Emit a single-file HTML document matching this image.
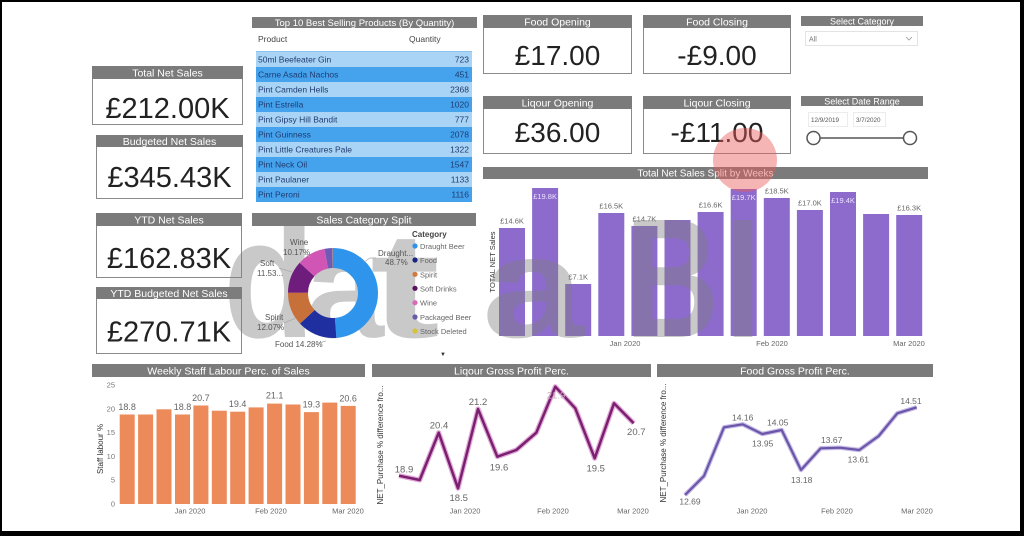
<!DOCTYPE html>
<html><head><meta charset="utf-8"><style>
html,body{margin:0;padding:0;background:#000;}
svg{display:block;font-family:"Liberation Sans",sans-serif;}
</style></head><body>
<svg width="1024" height="536" viewBox="0 0 1024 536" xmlns="http://www.w3.org/2000/svg">
<rect width="1024" height="536" fill="#000"/>
<rect x="2" y="2" width="1018" height="529" fill="#fff"/>

<!-- Left KPI cards -->
<g>
<rect x="92.5" y="66.5" width="150" height="58" fill="#fff" stroke="#8a8a8a"/>
<rect x="92" y="66" width="151" height="13" fill="#7b7b7b"/>
<text x="167.5" y="76.5" font-size="10.5" fill="#fff" text-anchor="middle">Total Net Sales</text>
<text x="167.5" y="118" font-size="29" fill="#222" text-anchor="middle">£212.00K</text>

<rect x="96.5" y="135.5" width="146" height="63" fill="#fff" stroke="#8a8a8a"/>
<rect x="96" y="135" width="147" height="12" fill="#7b7b7b"/>
<text x="169.5" y="144.8" font-size="10.5" fill="#fff" text-anchor="middle">Budgeted Net Sales</text>
<text x="169.5" y="187" font-size="29" fill="#222" text-anchor="middle">£345.43K</text>

<rect x="96.5" y="213.5" width="145" height="64" fill="#fff" stroke="#8a8a8a"/>
<rect x="96" y="213" width="146" height="13" fill="#7b7b7b"/>
<text x="169" y="223.5" font-size="10.5" fill="#fff" text-anchor="middle">YTD Net Sales</text>
<text x="169" y="268" font-size="29" fill="#222" text-anchor="middle">£162.83K</text>

<rect x="96.5" y="287.5" width="145" height="66" fill="#fff" stroke="#8a8a8a"/>
<rect x="96" y="287" width="146" height="12" fill="#7b7b7b"/>
<text x="169" y="297" font-size="10.5" fill="#fff" text-anchor="middle">YTD Budgeted Net Sales</text>
<text x="169" y="341.5" font-size="29" fill="#222" text-anchor="middle">£270.71K</text>
</g>

<!-- Table -->
<g font-size="8.5">
<rect x="252" y="17" width="225" height="11" fill="#7b7b7b"/>
<text x="364.5" y="26" font-size="9.5" fill="#fff" text-anchor="middle">Top 10 Best Selling Products (By Quantity)</text>
<text x="258" y="42" fill="#444">Product</text>
<text x="409" y="42" fill="#444">Quantity</text>
<rect x="256" y="52" width="216" height="15" fill="#a9d4f5"/>
<rect x="256" y="67" width="216" height="15" fill="#45a3ee"/>
<rect x="256" y="82" width="216" height="15" fill="#a9d4f5"/>
<rect x="256" y="97" width="216" height="15" fill="#45a3ee"/>
<rect x="256" y="112" width="216" height="15" fill="#a9d4f5"/>
<rect x="256" y="127" width="216" height="15" fill="#45a3ee"/>
<rect x="256" y="142" width="216" height="15" fill="#a9d4f5"/>
<rect x="256" y="157" width="216" height="15" fill="#45a3ee"/>
<rect x="256" y="172" width="216" height="15" fill="#a9d4f5"/>
<rect x="256" y="187" width="216" height="15" fill="#45a3ee"/>
<line x1="256" y1="51.5" x2="472" y2="51.5" stroke="#8cc3ef"/>
<g fill="#1f3b70">
<text x="258" y="62.5">50ml Beefeater Gin</text><text x="469" y="62.5" text-anchor="end">723</text>
<text x="258" y="77.5">Carne Asada Nachos</text><text x="469" y="77.5" text-anchor="end">451</text>
<text x="258" y="92.5">Pint Camden Hells</text><text x="469" y="92.5" text-anchor="end">2368</text>
<text x="258" y="107.5">Pint Estrella</text><text x="469" y="107.5" text-anchor="end">1020</text>
<text x="258" y="122.5">Pint Gipsy Hill Bandit</text><text x="469" y="122.5" text-anchor="end">777</text>
<text x="258" y="137.5">Pint Guinness</text><text x="469" y="137.5" text-anchor="end">2078</text>
<text x="258" y="152.5">Pint Little Creatures Pale</text><text x="469" y="152.5" text-anchor="end">1322</text>
<text x="258" y="167.5">Pint Neck Oil</text><text x="469" y="167.5" text-anchor="end">1547</text>
<text x="258" y="182.5">Pint Paulaner</text><text x="469" y="182.5" text-anchor="end">1133</text>
<text x="258" y="197.5">Pint Peroni</text><text x="469" y="197.5" text-anchor="end">1116</text>
</g>
</g>

<!-- Top right KPI cards -->
<g>
<rect x="483.5" y="15.5" width="148" height="58" fill="#fff" stroke="#8a8a8a"/>
<rect x="483" y="15" width="149" height="13" fill="#7b7b7b"/>
<text x="557.5" y="25.5" font-size="10.5" fill="#fff" text-anchor="middle">Food Opening</text>
<text x="557.5" y="65" font-size="28" fill="#222" text-anchor="middle">£17.00</text>

<rect x="643.5" y="15.5" width="147" height="58" fill="#fff" stroke="#8a8a8a"/>
<rect x="643" y="15" width="148" height="13" fill="#7b7b7b"/>
<text x="717" y="25.5" font-size="10.5" fill="#fff" text-anchor="middle">Food Closing</text>
<text x="717" y="65" font-size="28" fill="#222" text-anchor="middle">-£9.00</text>

<rect x="483.5" y="96.5" width="148" height="57" fill="#fff" stroke="#8a8a8a"/>
<rect x="483" y="96" width="149" height="13" fill="#7b7b7b"/>
<text x="557.5" y="106.5" font-size="10.5" fill="#fff" text-anchor="middle">Liqour Opening</text>
<text x="557.5" y="142" font-size="28" fill="#222" text-anchor="middle">£36.00</text>

<rect x="643.5" y="96.5" width="147" height="57" fill="#fff" stroke="#8a8a8a"/>
<rect x="643" y="96" width="148" height="13" fill="#7b7b7b"/>
<text x="717" y="106.5" font-size="10.5" fill="#fff" text-anchor="middle">Liqour Closing</text>
<text x="717" y="142" font-size="28" fill="#222" text-anchor="middle">-£11.00</text>

<rect x="801" y="16" width="122" height="10" fill="#7b7b7b"/>
<text x="862" y="24.3" font-size="9" fill="#fff" text-anchor="middle">Select Category</text>
<rect x="805.5" y="31.5" width="112" height="14" fill="#fff" stroke="#e3e3e3"/>
<text x="809" y="41.5" font-size="7" fill="#777">All</text>
<polyline points="906,37 909,40 912,37" fill="none" stroke="#999" stroke-width="0.8"/>

<rect x="801" y="96" width="122" height="10" fill="#7b7b7b"/>
<text x="862" y="104.3" font-size="9" fill="#fff" text-anchor="middle">Select Date Range</text>
<rect x="808.5" y="112.5" width="39" height="14" fill="#fff" stroke="#ececec"/>
<text x="811" y="122" font-size="6.3" fill="#555">12/9/2019</text>
<rect x="853.5" y="112.5" width="32" height="14" fill="#fff" stroke="#ececec"/>
<text x="856" y="122" font-size="6.3" fill="#555">3/7/2020</text>
<line x1="819" y1="138" x2="904" y2="138" stroke="#555" stroke-width="1.5"/>
<circle cx="813.5" cy="138" r="6.5" fill="#fff" stroke="#555" stroke-width="1.5"/>
<circle cx="910" cy="138" r="6.5" fill="#fff" stroke="#555" stroke-width="1.5"/>
</g>

<!-- Weekly net sales bar chart -->
<g>
<rect x="483" y="167" width="445" height="12" fill="#7b7b7b"/>
<text x="705.5" y="176.5" font-size="10" fill="#fff" text-anchor="middle">Total Net Sales Split by Weeks</text>
<text transform="translate(495,262) rotate(-90)" font-size="7.5" fill="#333" text-anchor="middle">TOTAL NET Sales</text>
<g fill="#8c6bcc">
<rect x="499" y="228" width="26" height="108"/>
<rect x="532.1" y="188" width="26" height="148"/>
<rect x="565.2" y="284" width="26" height="52"/>
<rect x="598.3" y="213" width="26" height="123"/>
<rect x="631.4" y="226" width="26" height="110"/>
<rect x="664.5" y="220" width="26" height="116"/>
<rect x="697.6" y="212" width="26" height="124"/>
<rect x="730.7" y="189" width="26" height="147"/>
<rect x="763.8" y="198" width="26" height="138"/>
<rect x="796.9" y="210" width="26" height="126"/>
<rect x="830" y="192" width="26" height="144"/>
<rect x="863.1" y="214" width="26" height="122"/>
<rect x="896.2" y="215" width="26" height="121"/>
</g>
<g font-size="7.5" fill="#666" text-anchor="middle">
<text x="512" y="223.5">£14.6K</text>
<text x="578.2" y="279.5">£7.1K</text>
<text x="611.3" y="208.5">£16.5K</text>
<text x="644.4" y="221.5">£14.7K</text>
<text x="710.6" y="207.5">£16.6K</text>
<text x="776.8" y="193.5">£18.5K</text>
<text x="809.9" y="205.5">£17.0K</text>
<text x="909.2" y="210.5">£16.3K</text>
</g>
<g font-size="7.5" fill="#ece2ff" text-anchor="middle">
<text x="545.1" y="199">£19.8K</text>
<text x="743.7" y="200">£19.7K</text>
<text x="843" y="203">£19.4K</text>
</g>
<g font-size="7.5" fill="#666" text-anchor="middle">
<text x="625" y="346">Jan 2020</text>
<text x="772" y="346">Feb 2020</text>
<text x="909" y="346">Mar 2020</text>
</g>
</g>

<!-- Staff labour chart -->
<g>
<rect x="92" y="364" width="273" height="13" fill="#7b7b7b"/>
<text x="228.5" y="374.5" font-size="10.5" fill="#fff" text-anchor="middle">Weekly Staff Labour Perc. of Sales</text>
<g font-size="7.5" fill="#777" text-anchor="end">
<text x="115" y="387.5">25</text>
<text x="115" y="411.3">20</text>
<text x="115" y="435.1">15</text>
<text x="115" y="458.9">10</text>
<text x="115" y="482.7">5</text>
<text x="115" y="506.5">0</text>
</g>
<text transform="translate(103,449) rotate(-90)" font-size="8" fill="#333" text-anchor="middle">Staff labour %</text>
<g fill="#ec8a5a">
<rect x="119.7" y="414.5" width="15" height="89.5"/>
<rect x="138.1" y="414.5" width="15" height="89.5"/>
<rect x="156.5" y="409.3" width="15" height="94.7"/>
<rect x="175" y="414.5" width="15" height="89.5"/>
<rect x="193.4" y="405.5" width="15" height="98.5"/>
<rect x="211.8" y="410.7" width="15" height="93.3"/>
<rect x="230.2" y="411.7" width="15" height="92.3"/>
<rect x="248.6" y="407.4" width="15" height="96.6"/>
<rect x="267.1" y="403.6" width="15" height="100.4"/>
<rect x="285.5" y="404.5" width="15" height="99.5"/>
<rect x="303.9" y="412.1" width="15" height="91.9"/>
<rect x="322.3" y="402.6" width="15" height="101.4"/>
<rect x="340.7" y="405.9" width="15" height="98.1"/>
</g>
<g font-size="9" fill="#666" text-anchor="middle">
<text x="127.2" y="410">18.8</text>
<text x="182.5" y="410">18.8</text>
<text x="200.9" y="401">20.7</text>
<text x="237.7" y="407">19.4</text>
<text x="274.6" y="398.5">21.1</text>
<text x="311.4" y="407.5">19.3</text>
<text x="348.2" y="401.5">20.6</text>
</g>
<g font-size="7.5" fill="#666" text-anchor="middle">
<text x="190" y="513.5">Jan 2020</text>
<text x="271" y="513.5">Feb 2020</text>
<text x="348" y="513.5">Mar 2020</text>
</g>
</g>

<!-- Liqour GP -->
<g>
<rect x="372" y="364" width="279" height="13" fill="#7b7b7b"/>
<text x="511.5" y="374.5" font-size="10.5" fill="#fff" text-anchor="middle">Liqour Gross Profit Perc.</text>
<text transform="translate(383,445) rotate(-90)" font-size="8" fill="#333" text-anchor="middle">NET_Purchase % difference fro...</text>
<polyline points="399,475.7 419.7,480 438.7,432.7 458,488.3 478,409 497.3,456.7 516.3,450 536.3,432.7 555.3,386.7 575.3,408.3 594.7,458.3 614,403.3 633.7,423.3" fill="none" stroke="#e2a6d6" stroke-width="5" stroke-linejoin="round"/>
<polyline points="399,475.7 419.7,480 438.7,432.7 458,488.3 478,409 497.3,456.7 516.3,450 536.3,432.7 555.3,386.7 575.3,408.3 594.7,458.3 614,403.3 633.7,423.3" fill="none" stroke="#7a2070" stroke-width="2.5" stroke-linejoin="round"/>
<g font-size="9.5" fill="#666" text-anchor="middle">
<text x="404" y="472.3">18.9</text>
<text x="439" y="428.3">20.4</text>
<text x="458.7" y="501">18.5</text>
<text x="478" y="405">21.2</text>
<text x="499" y="470.6">19.6</text>
<text x="556" y="398.3" fill="#c8b0c0">21.9</text>
<text x="595.7" y="471.6">19.5</text>
<text x="636.3" y="435">20.7</text>
</g>
<g font-size="7.5" fill="#666" text-anchor="middle">
<text x="465" y="513.5">Jan 2020</text>
<text x="553" y="513.5">Feb 2020</text>
<text x="633" y="513.5">Mar 2020</text>
</g>
</g>

<!-- Food GP -->
<g>
<rect x="657" y="364" width="276" height="13" fill="#7b7b7b"/>
<text x="795" y="374.5" font-size="10.5" fill="#fff" text-anchor="middle">Food Gross Profit Perc.</text>
<text transform="translate(666,443) rotate(-90)" font-size="8" fill="#333" text-anchor="middle">NET_Purchase % difference fro...</text>
<polyline points="685,495 704,476 724,427.3 742.7,424.3 762.3,434 781.7,430 801,470 820.7,448.3 840,447.7 859.3,450 878.7,436 897.3,413.3 916.7,407.3" fill="none" stroke="#c6bbe6" stroke-width="4.5" stroke-linejoin="round"/>
<polyline points="685,495 704,476 724,427.3 742.7,424.3 762.3,434 781.7,430 801,470 820.7,448.3 840,447.7 859.3,450 878.7,436 897.3,413.3 916.7,407.3" fill="none" stroke="#6a55a8" stroke-width="2.2" stroke-linejoin="round"/>
<g font-size="8.5" fill="#666" text-anchor="middle">
<text x="690" y="504.5">12.69</text>
<text x="742.7" y="420.3">14.16</text>
<text x="762.7" y="446.3">13.95</text>
<text x="777.7" y="425.3">14.05</text>
<text x="801.7" y="483">13.18</text>
<text x="831.7" y="443">13.67</text>
<text x="858.3" y="462.3">13.61</text>
<text x="911" y="404">14.51</text>
</g>
<g font-size="7.5" fill="#666" text-anchor="middle">
<text x="752" y="513.5">Jan 2020</text>
<text x="837" y="513.5">Feb 2020</text>
<text x="917" y="513.5">Mar 2020</text>
</g>
</g>

<!-- Watermark -->
<g fill="#808080" opacity="0.42" font-weight="bold" text-anchor="middle">
<text x="269" y="337" font-size="170" textLength="92" lengthAdjust="spacingAndGlyphs">d</text>
<text x="345" y="337" font-size="145" textLength="78" lengthAdjust="spacingAndGlyphs">a</text>
<text x="405" y="337" font-size="150" textLength="70" lengthAdjust="spacingAndGlyphs">t</text>
<text x="533" y="337" font-size="145" textLength="102" lengthAdjust="spacingAndGlyphs">a</text>
<text x="672" y="337" font-size="170" textLength="94" lengthAdjust="spacingAndGlyphs">B</text>
<text x="743" y="337" font-size="170" textLength="36" lengthAdjust="spacingAndGlyphs">I</text>
</g>

<!-- Donut (drawn above watermark) -->
<g>
<rect x="252" y="213" width="224" height="13" fill="#7b7b7b"/>
<text x="364" y="223.5" font-size="10.5" fill="#fff" text-anchor="middle">Sales Category Split</text>
<g transform="translate(333,293) rotate(-90)" fill="none" stroke-width="20">
<circle r="35" stroke="#2f95ec" stroke-dasharray="107.1 300" stroke-dashoffset="0"/>
<circle r="35" stroke="#1f2f9f" stroke-dasharray="31.4 300" stroke-dashoffset="-107.1"/>
<circle r="35" stroke="#c8703a" stroke-dasharray="26.5 300" stroke-dashoffset="-138.5"/>
<circle r="35" stroke="#6e1d7c" stroke-dasharray="25.4 300" stroke-dashoffset="-165.0"/>
<circle r="35" stroke="#d155b5" stroke-dasharray="22.4 300" stroke-dashoffset="-190.4"/>
<circle r="35" stroke="#6f5ab8" stroke-dasharray="6.5 300" stroke-dashoffset="-212.8"/>
<circle r="35" stroke="#d4c13a" stroke-dasharray="0.7 300" stroke-dashoffset="-219.3"/>
</g>
<g stroke="#aaa" stroke-width="0.7" fill="none">
<polyline points="364,262 370,258 376,258"/>
<polyline points="306,254 310,257"/>
<polyline points="279,268 292,272"/>
<polyline points="284,323 296,318"/>
<polyline points="319,343 326,341"/>
</g>
<g font-size="8" fill="#555">
<text x="378" y="256">Draught...</text>
<text x="385" y="265">48.7%</text>
<text x="290" y="245">Wine</text>
<text x="283" y="255">10.17%</text>
<text x="260" y="266">Soft</text>
<text x="257" y="276">11.53...</text>
<text x="265" y="320">Spirit</text>
<text x="257" y="330">12.07%</text>
<text x="275" y="347">Food 14.28%</text>
</g>
<text x="412" y="237" font-size="8" font-weight="bold" fill="#444">Category</text>
<g font-size="7.5" fill="#666">
<circle cx="415" cy="246" r="2.6" fill="#2f92e8"/><text x="420" y="249">Draught Beer</text>
<circle cx="415" cy="260" r="2.6" fill="#1a237e"/><text x="420" y="263">Food</text>
<circle cx="415" cy="274.3" r="2.6" fill="#d07a40"/><text x="420" y="277.3">Spirit</text>
<circle cx="415" cy="288.3" r="2.6" fill="#5a1060"/><text x="420" y="291.3">Soft Drinks</text>
<circle cx="415" cy="302.7" r="2.6" fill="#d86ab8"/><text x="420" y="305.7">Wine</text>
<circle cx="415" cy="317" r="2.6" fill="#6a5aa8"/><text x="420" y="320">Packaged Beer</text>
<circle cx="415" cy="331" r="2.6" fill="#d6c23c"/><text x="420" y="334">Stock Deleted</text>
</g>
<text x="443" y="356" font-size="6" fill="#333" text-anchor="middle">▼</text>
</g>

<!-- Red highlight circle -->
<circle cx="745" cy="160" r="32" fill="#e85a5a" opacity="0.45"/>
</svg>
</body></html>
